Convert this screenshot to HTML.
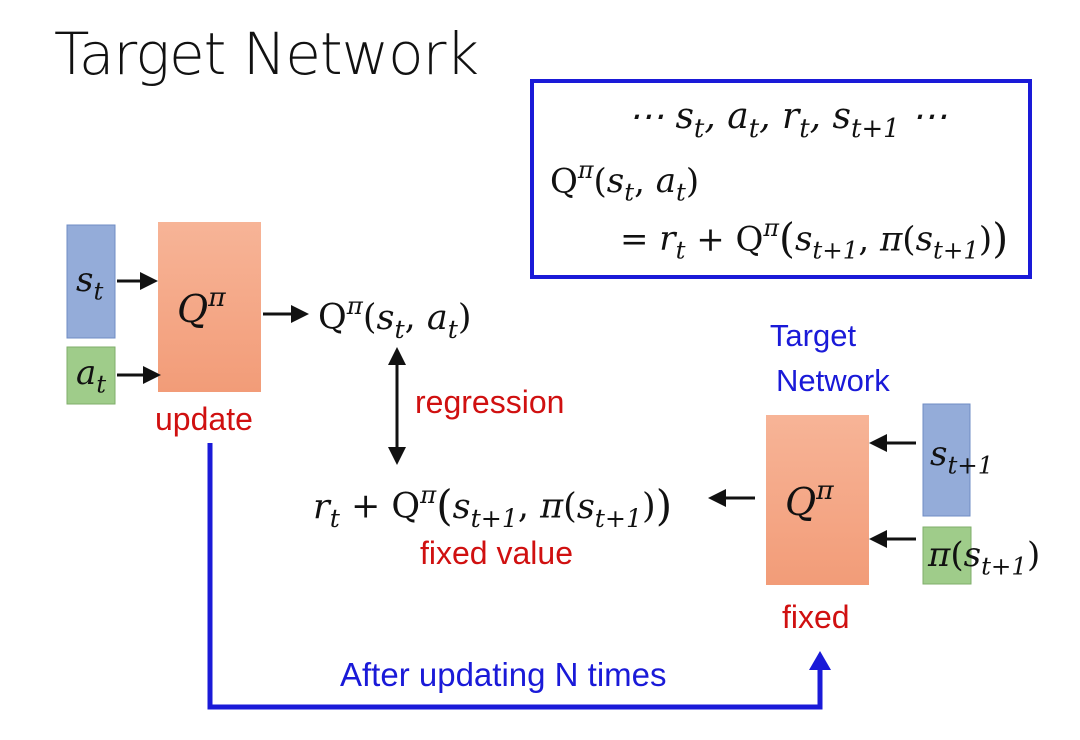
<!DOCTYPE html>
<html><head><meta charset="utf-8"><style>
body{margin:0;width:1080px;height:740px;background:#fff;overflow:hidden;position:relative;font-family:"Liberation Sans",sans-serif}
.t{position:absolute;white-space:nowrap}
.m{font-family:"DejaVu Serif","Liberation Serif",serif;font-size:34px;color:#111}
.i{font-style:italic}
.red{color:#d01010;font-size:32px}
.blue{color:#1a1ad8;font-size:31px}
sub{font-size:0.72em;vertical-align:-0.35em}
sup{font-size:0.7em;vertical-align:0.6em}
.bp{font-size:1.2em;vertical-align:-0.05em}
</style></head><body>
<div class="t" style="left:54px;top:20px;font-size:58px;color:#111;font-family:'DejaVu Sans','Liberation Sans',sans-serif;font-weight:300;letter-spacing:-1px">Target Network</div>

<svg width="1080" height="740" style="position:absolute;left:0;top:0">
<defs><marker id="a" markerWidth="6" markerHeight="6" refX="5" refY="3" orient="auto-start-reverse"><path d="M0,0L6,3L0,6z" fill="#111"/></marker>
<linearGradient id="o" x1="0" y1="0" x2="0" y2="1"><stop offset="0" stop-color="#f7b497"/><stop offset="1" stop-color="#f29c78"/></linearGradient></defs>
<rect x="532" y="81" width="498" height="196" fill="none" stroke="#1a1ad8" stroke-width="4"/>
<rect x="67" y="225" width="48" height="113" fill="#94acd9" stroke="#6f8cc4"/>
<rect x="67" y="347" width="48" height="57" fill="#9fcc8a" stroke="#7fae6a"/>
<rect x="158" y="222" width="103" height="170" fill="url(#o)"/>
<rect x="766" y="415" width="103" height="170" fill="url(#o)"/>
<rect x="923" y="404" width="47" height="112" fill="#94acd9" stroke="#6f8cc4"/>
<rect x="923" y="527" width="48" height="57" fill="#9fcc8a" stroke="#7fae6a"/>
<g stroke="#111" fill="none" stroke-width="3">
<line x1="117" y1="281" x2="155" y2="281" marker-end="url(#a)"/>
<line x1="117" y1="375" x2="158" y2="375" marker-end="url(#a)"/>
<line x1="263" y1="314" x2="306" y2="314" marker-end="url(#a)"/>
<line x1="397" y1="350" x2="397" y2="462" marker-end="url(#a)" marker-start="url(#a)"/>
<line x1="755" y1="498" x2="711" y2="498" marker-end="url(#a)"/>
<line x1="916" y1="443" x2="872" y2="443" marker-end="url(#a)"/>
<line x1="916" y1="539" x2="872" y2="539" marker-end="url(#a)"/>
</g>
<path d="M210,443V707H820V668" fill="none" stroke="#1a1ad8" stroke-width="5"/>
<path d="M809,670L820,651L831,670z" fill="#1a1ad8"/>
</svg>

<div class="t m i" style="left:628px;top:96px;font-size:36px">⋯ s<sub>t</sub>, a<sub>t</sub>, r<sub>t</sub>, s<sub>t+1</sub> ⋯</div>
<div class="t m" style="left:550px;top:156px">Q<sup class="i">π</sup>(<i>s<sub>t</sub></i>, <i>a<sub>t</sub></i>)</div>
<div class="t m" style="left:620px;top:214px">= <i>r<sub>t</sub></i> + Q<sup class="i">π</sup><span class="bp">(</span><i>s<sub>t+1</sub></i>, <i>π</i>(<i>s<sub>t+1</sub></i>)<span class="bp">)</span></div>

<div class="t m i" style="left:76px;top:260px">s<sub>t</sub></div>
<div class="t m i" style="left:76px;top:353px">a<sub>t</sub></div>
<div class="t m i" style="left:177px;top:282px;font-size:38px">Q<sup>π</sup></div>
<div class="t m" style="left:318px;top:291px;font-size:35px">Q<sup class="i">π</sup>(<i>s<sub>t</sub></i>, <i>a<sub>t</sub></i>)</div>
<div class="t red" style="left:155px;top:401px">update</div>
<div class="t red" style="left:415px;top:384px">regression</div>
<div class="t m" style="left:313px;top:480px;font-size:35px"><i>r<sub>t</sub></i> + Q<sup class="i">π</sup><span class="bp">(</span><i>s<sub>t+1</sub></i>, <i>π</i>(<i>s<sub>t+1</sub></i>)<span class="bp">)</span></div>
<div class="t red" style="left:420px;top:535px">fixed value</div>
<div class="t blue" style="left:766px;top:318px;width:94px;text-align:center">Target</div>
<div class="t blue" style="left:776px;top:363px">Network</div>
<div class="t m i" style="left:785px;top:475px;font-size:38px">Q<sup>π</sup></div>
<div class="t m i" style="left:930px;top:434px">s<sub>t+1</sub></div>
<div class="t m" style="left:928px;top:535px"><i>π</i>(<i>s<sub>t+1</sub></i>)</div>
<div class="t red" style="left:782px;top:599px">fixed</div>
<div class="t blue" style="left:340px;top:656px;font-size:33px">After updating N times</div>
</body></html>
